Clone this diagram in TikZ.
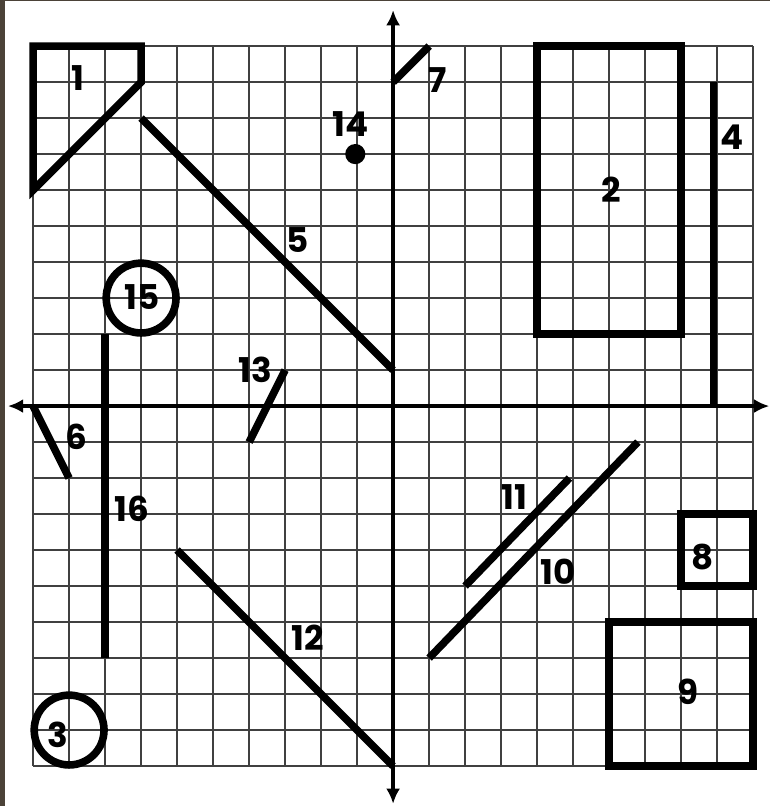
\documentclass[tikz,border=0pt]{standalone}
\usepackage{fontspec}
\setmainfont{Poppins}
\usetikzlibrary{arrows.meta}
\definecolor{framebrown}{HTML}{4B4238}
\tikzstyle{plane}=[
  x=0.5cm,y=0.5cm
]
\tikzstyle{gridline}=[
  black!75,line width=0.8pt,step=0.5cm
]
\tikzstyle{axis}=[
  line width=1.8pt,{Latex[length=6pt,width=5.5pt]}-{Latex[length=6pt,width=5.5pt]}
]
\tikzstyle{shapeline}=[
  line width=3pt
]
\tikzstyle{num}=[
  font=\fontsize{13.5}{13.5}\selectfont\bfseries,inner sep=0pt
]

\begin{document}
\begin{tikzpicture}[plane]
    \useasboundingbox (-10.92,-11.11) rectangle (10.47,11.28);
    \fill[white] (-10.92,-11.11) rectangle (10.47,11.28);
    \fill[framebrown] (-10.92,-11.11) rectangle (-10.78,11.28);
    \fill[framebrown] (-10.92,11.25) rectangle (10.47,11.28);
    \draw[gridline] (-10,-10) grid (10,10);
    \draw[axis] (-10.7,0) -- (10.45,0);
    \draw[axis] (0,-11.05) -- (0,11);
    % the sixteen figures
    \draw[shapeline] (-10,10) -- (-7,10) -- (-7,9) -- (-10,6) -- cycle;
    \draw[shapeline] (4,2) rectangle (8,10);
    \draw[shapeline] (-9,-9) circle (0.97);
    \draw[shapeline] (8.9,0) -- (8.9,9);
    \draw[shapeline] (-7,8) -- (0,1);
    \draw[shapeline] (-10,0) -- (-9,-2);
    \draw[shapeline] (0,9) -- (1,10);
    \draw[shapeline] (8,-5) rectangle (10,-3);
    \draw[shapeline] (6,-10) rectangle (10,-6);
    \draw[shapeline] (1,-7) -- (6.8,-1);
    \draw[shapeline] (2,-5) -- (4.9,-2);
    \draw[shapeline] (-6,-4) -- (0,-10);
    \draw[shapeline] (-4,-1) -- (-3,1);
    \fill (-1.05,7) circle (0.28);
    \draw[shapeline] (-7,3) circle (0.97);
    \draw[shapeline] (-8,2) -- (-8,-7);
    % numbers
    \node[num] (n1) at (-8.75,9.1) {1};
    \node[num] (n2) at (6.05,6) {2};
    \node[num] (n3) at (-9.3,-9.12) {3};
    \node[num] (n4) at (9.42,7.47) {4};
    \node[num] (n5) at (-2.64,4.61) {5};
    \node[num] (n6) at (-8.8,-0.85) {6};
    \node[num] (n7) at (1.25,9.05) {7};
    \node[num] (n8) at (8.61,-4.19) {8};
    \node[num] (n9) at (8.2,-7.95) {9};
    \node[num] (n10) at (4.58,-4.61) {10};
    \node[num] (n11) at (3.36,-2.53) {11};
    \node[num] (n12) at (-2.36,-6.45) {12};
    \node[num] (n13) at (-3.83,1) {13};
    \node[num] (n14) at (-1.19,7.83) {14};
    \node[num] (n15) at (-6.97,3.03) {15};
    \node[num] (n16) at (-7.25,-2.85) {16};
\end{tikzpicture}
\end{document}
